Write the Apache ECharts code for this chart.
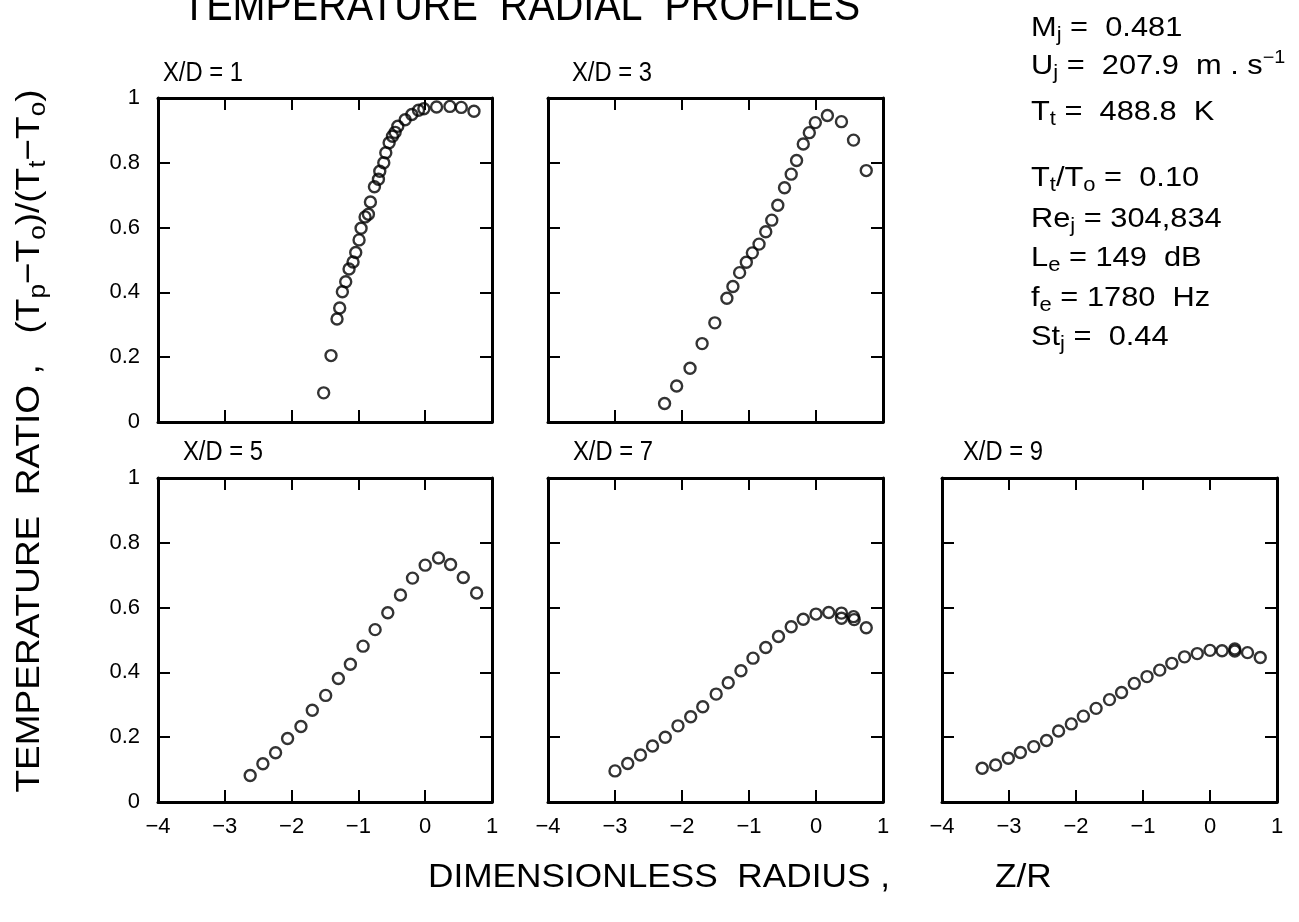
<!DOCTYPE html>
<html><head><meta charset="utf-8">
<script src="https://cdn.jsdelivr.net/npm/echarts@6/dist/echarts.min.js"></script>
<style>html,body{margin:0;padding:0;background:#fff}#c{width:1299px;height:922px}</style>
</head><body><div id="c"></div>
<script>
// ---------------- data ----------------
const panelLabels = ['X/D = 1', 'X/D = 3', 'X/D = 5', 'X/D = 7', 'X/D = 9'];
const xTicks = [-4, -3, -2, -1, 0, 1];
const yTicks = [0, 0.2, 0.4, 0.6, 0.8, 1];

const x1 = [-1.52,-1.41,-1.32,-1.28,-1.24,-1.19,-1.14,-1.08,-1.04,-0.99,-0.96,-0.90,-0.85,-0.82,-0.76,-0.70,-0.68,-0.62,-0.59,-0.54,-0.49,-0.45,-0.41,-0.30,-0.20,-0.10,-0.02,0.17,0.37,0.54,0.73];
const y1 = [0.090,0.205,0.318,0.352,0.402,0.433,0.472,0.494,0.523,0.562,0.598,0.633,0.641,0.679,0.726,0.749,0.774,0.800,0.831,0.862,0.882,0.894,0.913,0.933,0.949,0.962,0.967,0.972,0.974,0.971,0.959];

const x2 = [-2.26,-2.08,-1.88,-1.70,-1.51,-1.33,-1.24,-1.14,-1.04,-0.95,-0.85,-0.75,-0.66,-0.57,-0.47,-0.37,-0.29,-0.19,-0.10,-0.01,0.17,0.38,0.56,0.75];
const y2 = [0.057,0.111,0.166,0.242,0.306,0.382,0.418,0.461,0.493,0.522,0.549,0.587,0.623,0.669,0.723,0.765,0.807,0.858,0.893,0.924,0.946,0.927,0.870,0.776];

const x3 = [-2.62,-2.43,-2.24,-2.06,-1.86,-1.69,-1.49,-1.30,-1.12,-0.93,-0.75,-0.56,-0.37,-0.19,0.00,0.20,0.38,0.57,0.77];
const y3 = [0.082,0.118,0.152,0.196,0.233,0.283,0.329,0.381,0.425,0.481,0.532,0.584,0.639,0.691,0.731,0.753,0.733,0.693,0.645];

const x4 = [-3.00,-2.81,-2.62,-2.44,-2.25,-2.06,-1.87,-1.69,-1.49,-1.31,-1.12,-0.94,-0.75,-0.56,-0.37,-0.19,0.00,0.19,0.38,0.38,0.56,0.57,0.75];
const y4 = [0.096,0.119,0.145,0.173,0.200,0.235,0.263,0.294,0.333,0.368,0.405,0.444,0.477,0.511,0.541,0.564,0.580,0.585,0.583,0.567,0.572,0.563,0.538];

const x5 = [-3.40,-3.20,-3.01,-2.83,-2.63,-2.44,-2.26,-2.07,-1.89,-1.70,-1.50,-1.32,-1.13,-0.94,-0.75,-0.57,-0.38,-0.19,0.00,0.18,0.37,0.37,0.56,0.75];
const y5 = [0.104,0.114,0.135,0.153,0.171,0.190,0.219,0.241,0.265,0.289,0.316,0.338,0.366,0.387,0.407,0.428,0.448,0.458,0.468,0.467,0.466,0.472,0.461,0.446];

const paramLines = [
  'M{s|j} =  0.481',
  'U{s|j} =  207.9  m . s{p|−1}',
  'T{s|t} =  488.8  K',
  'T{s|t}/T{s|o} =  0.10',
  'Re{s|j} = 304,834',
  'L{s|e} = 149  dB',
  'f{s|e} = 1780  Hz',
  'St{s|j} =  0.44'
];
const titleText = 'TEMPERATURE  RADIAL  PROFILES';
const xTitle1 = 'DIMENSIONLESS  RADIUS ,';
const xTitle2 = 'Z/R';
const yTitleParts = ['TEMPERATURE  RATIO ,   (T', 'p', '−T', 'o', ')/(T', 't', '−T', 'o', ')'];

// ---------------- layout ----------------
const FONT = '"Liberation Sans", Arial, sans-serif';
const grids = [
  {left: 158, top: 98, width: 334, height: 324},
  {left: 548, top: 98, width: 335, height: 324},
  {left: 158, top: 478, width: 334, height: 324},
  {left: 548, top: 478, width: 335, height: 324},
  {left: 942, top: 478, width: 335, height: 324}
];
const labelPos = [[163, 73], [572, 73], [183, 452], [573, 452], [963, 452]];
const showXLabels = [false, false, true, true, true];
const showYLabels = [true, false, true, false, false];
const xs = [x1, x2, x3, x4, x5];
const ys = [y1, y2, y3, y4, y5];

const ctx = document.createElement('canvas').getContext('2d');
function tw(t, f) { ctx.font = f; return ctx.measureText(t).width; }

const axisLine = {show: true, onZero: false, lineStyle: {color: '#000', width: 3}};
const axisTick = {show: true, inside: true, length: 12, lineStyle: {color: '#000', width: 2}};
const fmtX = v => (v < 0 ? '\u2212' + (-v) : String(v));
const fmtY = v => (v === 0 ? '0' : v === 1 ? '1' : v.toFixed(1));

const xAxis = [], yAxis = [], series = [];
grids.forEach((g, i) => {
  xAxis.push({
    gridIndex: i, type: 'value', position: 'bottom', min: xTicks[0], max: xTicks[xTicks.length - 1], interval: 1,
    axisLine, axisTick, splitLine: {show: false},
    axisLabel: {show: showXLabels[i], formatter: fmtX, color: '#000', fontSize: 22, fontFamily: FONT, margin: 14,
      showMinLabel: true, showMaxLabel: true}
  });
  xAxis.push({
    gridIndex: i, type: 'value', position: 'top', min: xTicks[0], max: xTicks[xTicks.length - 1], interval: 1,
    axisLine, axisTick, splitLine: {show: false}, axisLabel: {show: false}
  });
  yAxis.push({
    gridIndex: i, type: 'value', position: 'left', min: yTicks[0], max: yTicks[yTicks.length - 1], interval: 0.2,
    axisLine, axisTick, splitLine: {show: false},
    axisLabel: {show: showYLabels[i], formatter: fmtY, color: '#000', fontSize: 22, fontFamily: FONT, margin: 18,
      showMinLabel: true, showMaxLabel: true}
  });
  yAxis.push({
    gridIndex: i, type: 'value', position: 'right', min: yTicks[0], max: yTicks[yTicks.length - 1], interval: 0.2,
    axisLine, axisTick, splitLine: {show: false}, axisLabel: {show: false}
  });
  series.push({
    type: 'scatter', xAxisIndex: 2 * i, yAxisIndex: 2 * i,
    symbol: 'circle', symbolSize: 11,
    itemStyle: {color: 'rgba(0,0,0,0)', borderColor: '#000', borderWidth: 2.4},
    data: xs[i].map((x, k) => [x, ys[i][k]])
  });
});

// ---------------- texts ----------------
const graphic = [];
const titleFont = '44px ' + FONT;
graphic.push({type: 'text', x: 182, y: 8, scaleX: 678 / tw(titleText, titleFont),
  style: {text: titleText, font: titleFont, fill: '#000', align: 'left', verticalAlign: 'middle'}});

const plFont = '28px ' + FONT;
const plScale = 80 / tw(panelLabels[0], plFont);
panelLabels.forEach((t, i) => {
  graphic.push({type: 'text', x: labelPos[i][0], y: labelPos[i][1], scaleX: plScale,
    style: {text: t, font: plFont, fill: '#000', align: 'left', verticalAlign: 'middle'}});
});

// y title (rich, rotated)
const ytFont = '34px ' + FONT, ytSub = '24px ' + FONT;
let ytW = 0;
yTitleParts.forEach((p, k) => { ytW += tw(p, k % 2 ? ytSub : ytFont); });
const ytScale = 703 / ytW;
const ytText = yTitleParts.map((p, k) => (k % 2 ? '{s|' + p + '}' : p)).join('');
graphic.push({type: 'text', x: 30, y: 441, rotation: Math.PI / 2, scaleX: ytScale,
  style: {text: ytText, font: ytFont, fill: '#000', align: 'center', verticalAlign: 'middle',
    rich: {s: {font: ytSub, fill: '#000', padding: [16, 0, 0, 0]}}}});

// x title
const xtScale = 462 / tw(xTitle1, ytFont);
graphic.push({type: 'text', x: 428, y: 878, scaleX: xtScale,
  style: {text: xTitle1, font: ytFont, fill: '#000', align: 'left', verticalAlign: 'middle'}});
graphic.push({type: 'text', x: 995, y: 878, scaleX: xtScale,
  style: {text: xTitle2, font: ytFont, fill: '#000', align: 'left', verticalAlign: 'middle'}});

// parameter block
const paramY = [28, 66, 112, 178, 219, 258, 298, 337];
paramLines.forEach((t, i) => {
  graphic.push({type: 'text', x: 1031, y: paramY[i], scaleX: 1.1,
    style: {text: t, font: '28px ' + FONT, fill: '#000', align: 'left', verticalAlign: 'middle',
      rich: {
        s: {font: '20px ' + FONT, fill: '#000', padding: [14, 0, 0, 0]},
        p: {font: '18px ' + FONT, fill: '#000', padding: [0, 0, 16, 0]}
      }}});
});

const chart = echarts.init(document.getElementById('c'), null, {renderer: 'canvas'});
chart.setOption({
  animation: false,
  backgroundColor: '#fff',
  grid: grids.map(g => Object.assign({containLabel: false}, g)),
  xAxis, yAxis, series, graphic
});
</script></body></html>
